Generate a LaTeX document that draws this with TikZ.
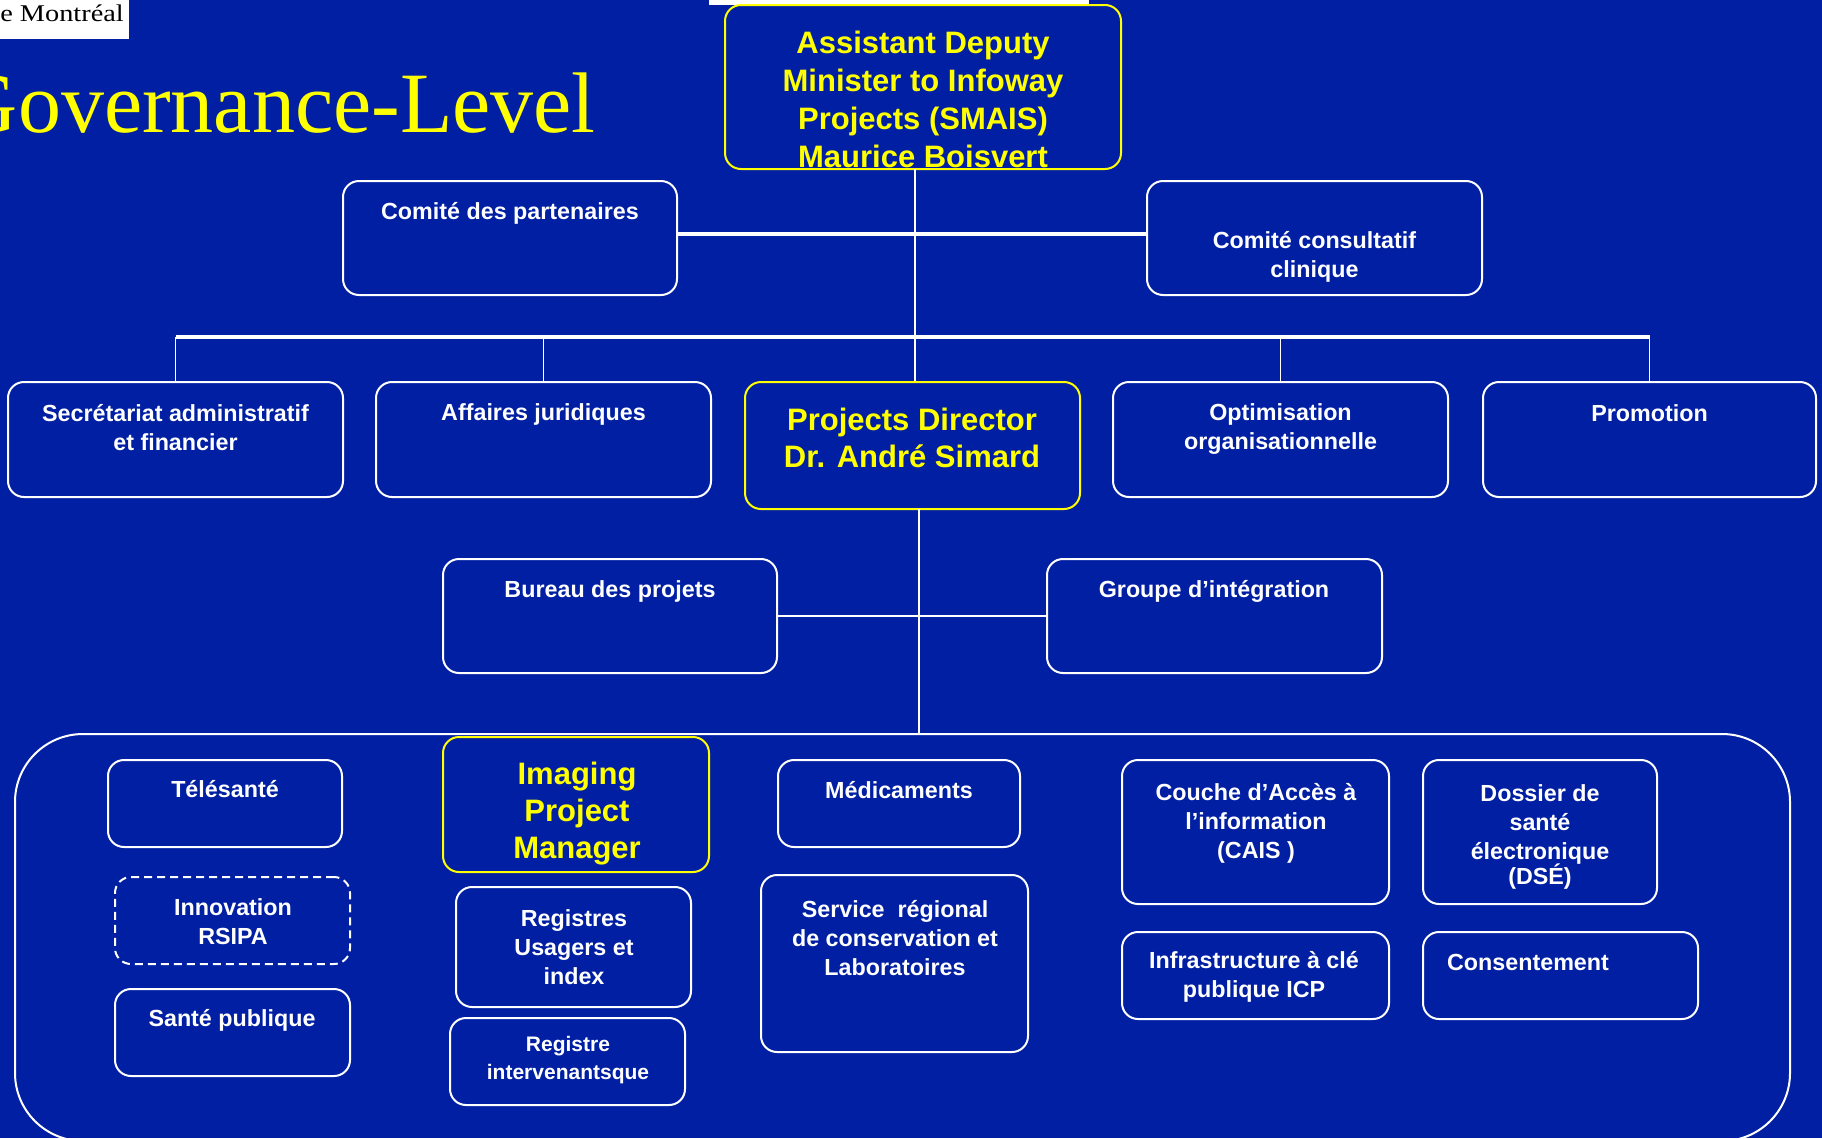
\documentclass[tikz,border=0pt]{standalone}
\usepackage{fontspec}
\setmainfont{Liberation Sans}
\newfontfamily\tnr{Liberation Serif}
\definecolor{bg}{RGB}{0,31,162}
\definecolor{yel}{RGB}{255,255,0}
\tikzset{
  wbox/.style={draw=white, line width=2pt, rounded corners=16pt, inner sep=0pt, rectangle},
  ybox/.style={wbox, draw=yel},
  dbox/.style={wbox, dash pattern=on 8pt off 5pt},
  wtxt/.style={text=white, font=\fontsize{23.3}{29}\selectfont\bfseries, align=center, inner sep=0pt},
  stxt/.style={wtxt, font=\fontsize{21}{28}\selectfont\bfseries},
  ytxt/.style={text=yel, font=\fontsize{31}{37}\selectfont\bfseries, align=center, inner sep=0pt},
  thin/.style={draw=white, line width=1.5pt},
  thick/.style={draw=white, line width=3.5pt},
}
\newcommand\bx[6][wbox]{\node[#1, minimum width={#5-(#3)}, minimum height={#6-(#4)}] (#2) at ({(#3+#5)/2},{(#4+#6)/2}) {};}
\begin{document}
\begin{tikzpicture}[x=1pt,y=-1pt]
\useasboundingbox (0,0) rectangle (1822,1138);
\fill[bg] (0,0) rectangle (1822,1138);
% header elements
\fill[white] (0,0) rectangle (129,39);
\node[anchor=base east, inner sep=0pt, text=black, font=\tnr\fontsize{24}{28}\selectfont] (univ) at (124,21) {\scalebox{1.18}[1]{e Montréal}};
\fill[white] (709,0) rectangle (1089,5);
\node[anchor=base east, inner sep=0pt, text=yel, font=\tnr\fontsize{86}{90}\selectfont] (title) at (596,132) {Governance-Level};

% top box
\bx[ybox]{adm}{725}{5}{1121}{169}
\node[ytxt, font=\fontsize{31}{38}\selectfont\bfseries] (adm-t) at (923,99) {Assistant Deputy\\Minister to Infoway\\Projects (SMAIS)\\Maurice Boisvert};

% committees
\bx{cp}{343}{181}{677}{295}
\node[wtxt] (cp-t) at (510,213) {Comité des partenaires};
\bx{cc}{1147}{181}{1482}{295}
\node[wtxt] (cc-t) at (1314.5,257) {Comité consultatif\\clinique};

% row of five
\bx{sec}{8}{382}{343}{497}
\node[wtxt] (sec-t) at (175.5,427.5) {Secrétariat administratif\\et financier};
\bx{aff}{376}{382}{711}{497}
\node[wtxt] (aff-t) at (543.5,414.5) {Affaires juridiques};
\bx[ybox]{pd}{745}{382}{1080}{509}
\node[ytxt] (pd-t) at (912,437.5) {Projects Director\\Dr. André Simard};
\bx{opt}{1113}{382}{1448}{497}
\node[wtxt] (opt-t) at (1280.5,429) {Optimisation\\organisationnelle};
\bx{pro}{1483}{382}{1816}{497}
\node[wtxt] (pro-t) at (1649.5,413) {Promotion};

% second tier
\bx{bur}{443}{559}{777}{673}
\node[wtxt] (bur-t) at (610,591) {Bureau des projets};
\bx{grp}{1047}{559}{1382}{673}
\node[wtxt] (grp-t) at (1214,591) {Groupe d’intégration};

% container
\node[draw=white, line width=2pt, rounded corners=68pt, inner sep=0pt, minimum width=1775pt, minimum height=407pt] (cont) at (902.5,937.5) {};

% inner boxes
\bx{tel}{108}{760}{342}{847}
\node[wtxt] (tel-t) at (225,789.5) {Télésanté};
\bx[dbox]{inn}{115}{877}{350}{964}
\node[wtxt] (inn-t) at (233,922) {Innovation\\RSIPA};
\bx{sp}{115}{989}{350}{1076}
\node[wtxt] (sp-t) at (232,1020) {Santé publique};
\bx[ybox]{img}{443}{737}{709}{872}
\node[ytxt] (img-t) at (577,814) {Imaging\\Project\\Manager};
\bx{reg}{456}{887}{691}{1007}
\node[wtxt] (reg-t) at (574,947) {Registres\\Usagers et\\index};
\bx{ri}{450}{1018}{685}{1105}
\node[stxt] (ri-t) at (568,1060) {Registre\\intervenantsque};
\bx{med}{778}{760}{1020}{847}
\node[wtxt] (med-t) at (899,790) {Médicaments};
\bx{srv}{761}{875}{1028}{1052}
\node[wtxt] (srv-t) at (895,938) {Service\ \ régional\\de conservation et\\Laboratoires};
\bx{cais}{1122}{760}{1389}{904}
\node[wtxt] (cais-t) at (1256,823) {Couche d’Accès à\\l’information\\(CAIS )};
\bx{dse}{1423}{760}{1657}{904}
\node[wtxt] (dse-t) at (1540,836.5) {Dossier de\\santé\\électronique\\[-4pt](DSÉ)};
\bx{icp}{1122}{932}{1389}{1019}
\node[wtxt] (icp-t) at (1254,977) {Infrastructure à clé\\publique ICP};
\bx{con}{1423}{932}{1698}{1019}
\node[wtxt] (con-t) at (1528,962) {Consentement};

% connectors
\coordinate (v1) at (915,169);
\draw[thin] (v1) -- (v1 |- pd.north);
\coordinate (hy) at (0,234);
\draw[thick] (cp.east |- hy) -- (cc.west |- hy);
\coordinate (bar) at (0,337);
\draw[thick] (sec.north |- bar) -- (pro.north |- bar);
\draw[thin] (sec.north |- bar) -- (sec.north);
\draw[thin] (aff.north |- bar) -- (aff.north);
\draw[thin] (opt.north |- bar) -- (opt.north);
\draw[thin] (pro.north |- bar) -- (pro.north);
\coordinate (v2) at (919,509);
\draw[thin] (v2) -- (v2 |- cont.north);
\draw[line width=2.5pt, white] (bur.east) -- (grp.west);
\end{tikzpicture}
\end{document}
